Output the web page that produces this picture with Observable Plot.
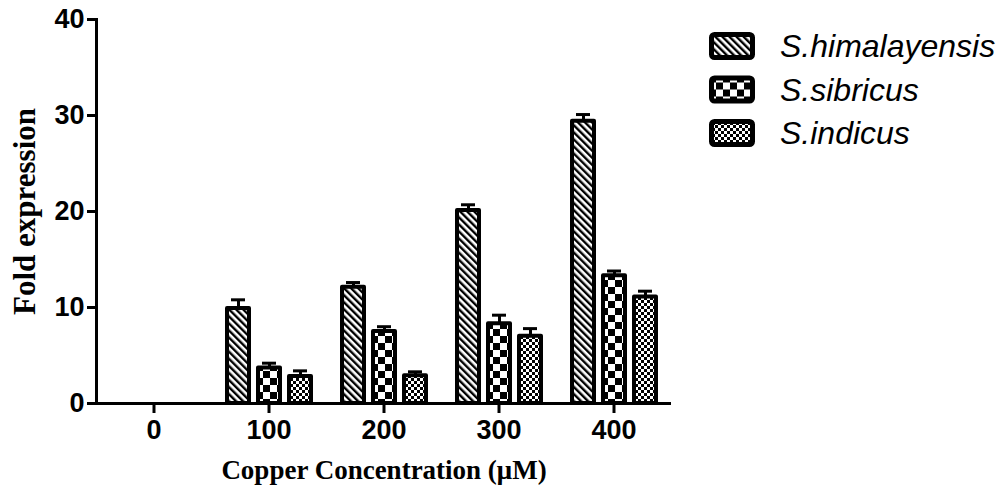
<!DOCTYPE html>
<html><head><meta charset="utf-8">
<script src="https://cdn.jsdelivr.net/npm/d3@7"></script>
<script src="https://cdn.jsdelivr.net/npm/@observablehq/plot@0.6"></script>
<style>
body{margin:0;background:#fff;}
#wrap{position:relative;width:999px;height:493px;}
#legend{position:absolute;left:0;top:0;}
</style></head>
<body><div id="wrap"></div>
<script>
const concentrations = ["0", "100", "200", "300", "400"];
const species = ["S.himalayensis", "S.sibricus", "S.indicus"];
const himalayensis    = [0, 9.9, 12.1, 20.1, 29.4];
const himalayensisErr = [0, 0.9, 0.5, 0.6, 0.7];
const sibricus        = [0, 3.7, 7.5, 8.3, 13.3];
const sibricusErr     = [0, 0.5, 0.5, 0.9, 0.5];
const indicus         = [0, 2.8, 2.9, 7.0, 11.1];
const indicusErr      = [0, 0.6, 0.4, 0.8, 0.6];
const yTicks = [0, 10, 20, 30, 40];
const patternIds = ["p-h", "p-s", "p-i"];

const series = [[himalayensis, himalayensisErr], [sibricus, sibricusErr], [indicus, indicusErr]];
const rows = [];
concentrations.forEach((c, i) => {
  species.forEach((s, j) => rows.push({conc: c, species: s, value: series[j][0][i], err: series[j][1][i]}));
});

const defsHTML = `
<pattern id="p-h" patternUnits="userSpaceOnUse" width="5" height="5" patternTransform="rotate(-45)">
  <rect width="5" height="5" fill="#fff"/><rect width="2.4" height="5" fill="#000"/></pattern>
<pattern id="p-s" patternUnits="userSpaceOnUse" width="14" height="14">
  <rect width="14" height="14" fill="#fff"/><rect width="7" height="7" fill="#000"/><rect x="7" y="7" width="7" height="7" fill="#000"/></pattern>
<pattern id="p-i" patternUnits="userSpaceOnUse" width="6" height="6">
  <rect width="6" height="6" fill="#fff"/><rect width="3" height="3" fill="#000"/><rect x="3" y="3" width="3" height="3" fill="#000"/></pattern>`;

const sans = "Liberation Sans, Arial, sans-serif";
const serif = "Liberation Serif, Times New Roman, serif";
const shown = d => d.value > 0;

const plot = Plot.plot({
  width: 999, height: 493,
  marginLeft: 95, marginRight: 328, marginTop: 19, marginBottom: 90,
  fx: {domain: concentrations, padding: 0, axis: null},
  x: {domain: species, paddingInner: 0.3, paddingOuter: 0.48, axis: null},
  y: {domain: [0, 40], axis: null},
  color: {type: "ordinal", domain: species, range: patternIds.map(id => `url(#${id})`)},
  style: {background: "white", color: "black"},
  marks: [
    Plot.barY(rows, {fx: "conc", x: "species", y: "value", fill: "species", stroke: "black", strokeWidth: 4, strokeLinejoin: "round", filter: shown}),
    Plot.ruleX(rows, {fx: "conc", x: "species", y1: "value", y2: d => d.value + d.err, strokeWidth: 3, filter: shown}),
    Plot.tickY(rows, {fx: "conc", x: "species", y: d => d.value + d.err, strokeWidth: 3, insetLeft: 4, insetRight: 4, filter: shown}),
    Plot.ruleY([0], {strokeWidth: 3}),
    Plot.frame({anchor: "left", strokeWidth: 3, facetAnchor: "left"}),
    Plot.axisY({ticks: yTicks, tickSize: 9, tickPadding: 3, strokeWidth: 3, fontSize: 27, fontWeight: "bold", fontFamily: sans, label: null}),
    Plot.axisY({ticks: [], tickSize: 0, label: "Fold expression", labelArrow: "none", labelAnchor: "center", labelOffset: 84, fontFamily: serif, fontWeight: "bold", fontSize: 31, letterSpacing: 1}),
    Plot.axisFx({anchor: "bottom", tickSize: 10, strokeWidth: 3, tickPadding: 6, fontSize: 27, fontWeight: "bold", fontFamily: sans, label: null}),
    Plot.axisFx({anchor: "bottom", ticks: [], tickSize: 0, label: "Copper Concentration (μM)", labelArrow: "none", labelAnchor: "center", labelOffset: 75, fontFamily: serif, fontWeight: "bold", fontSize: 27})
  ]
});
d3.select(plot).insert("defs", ":first-child").html(defsHTML);
document.getElementById("wrap").appendChild(plot);

// legend overlay
const leg = d3.select("#wrap").append("svg").attr("id", "legend").attr("width", 999).attr("height", 493)
  .style("pointer-events", "none");
leg.append("defs").html(defsHTML.replace(/id="p-/g, 'id="l-'));
species.forEach((s, i) => {
  const g = leg.append("g").attr("transform", `translate(709,${32 + 43.5 * i})`);
  g.append("rect").attr("x", 2.5).attr("y", 2.5).attr("width", 41).attr("height", 23).attr("rx", 3)
    .attr("fill", `url(#l-${patternIds[i].slice(2)})`).attr("stroke", "black").attr("stroke-width", 5);
  leg.append("text").attr("x", 780).attr("y", 57 + 43.5 * i).text(s)
    .attr("font-family", sans).attr("font-style", "italic").attr("font-size", 32).attr("fill", "black");
});
</script>
</body></html>
